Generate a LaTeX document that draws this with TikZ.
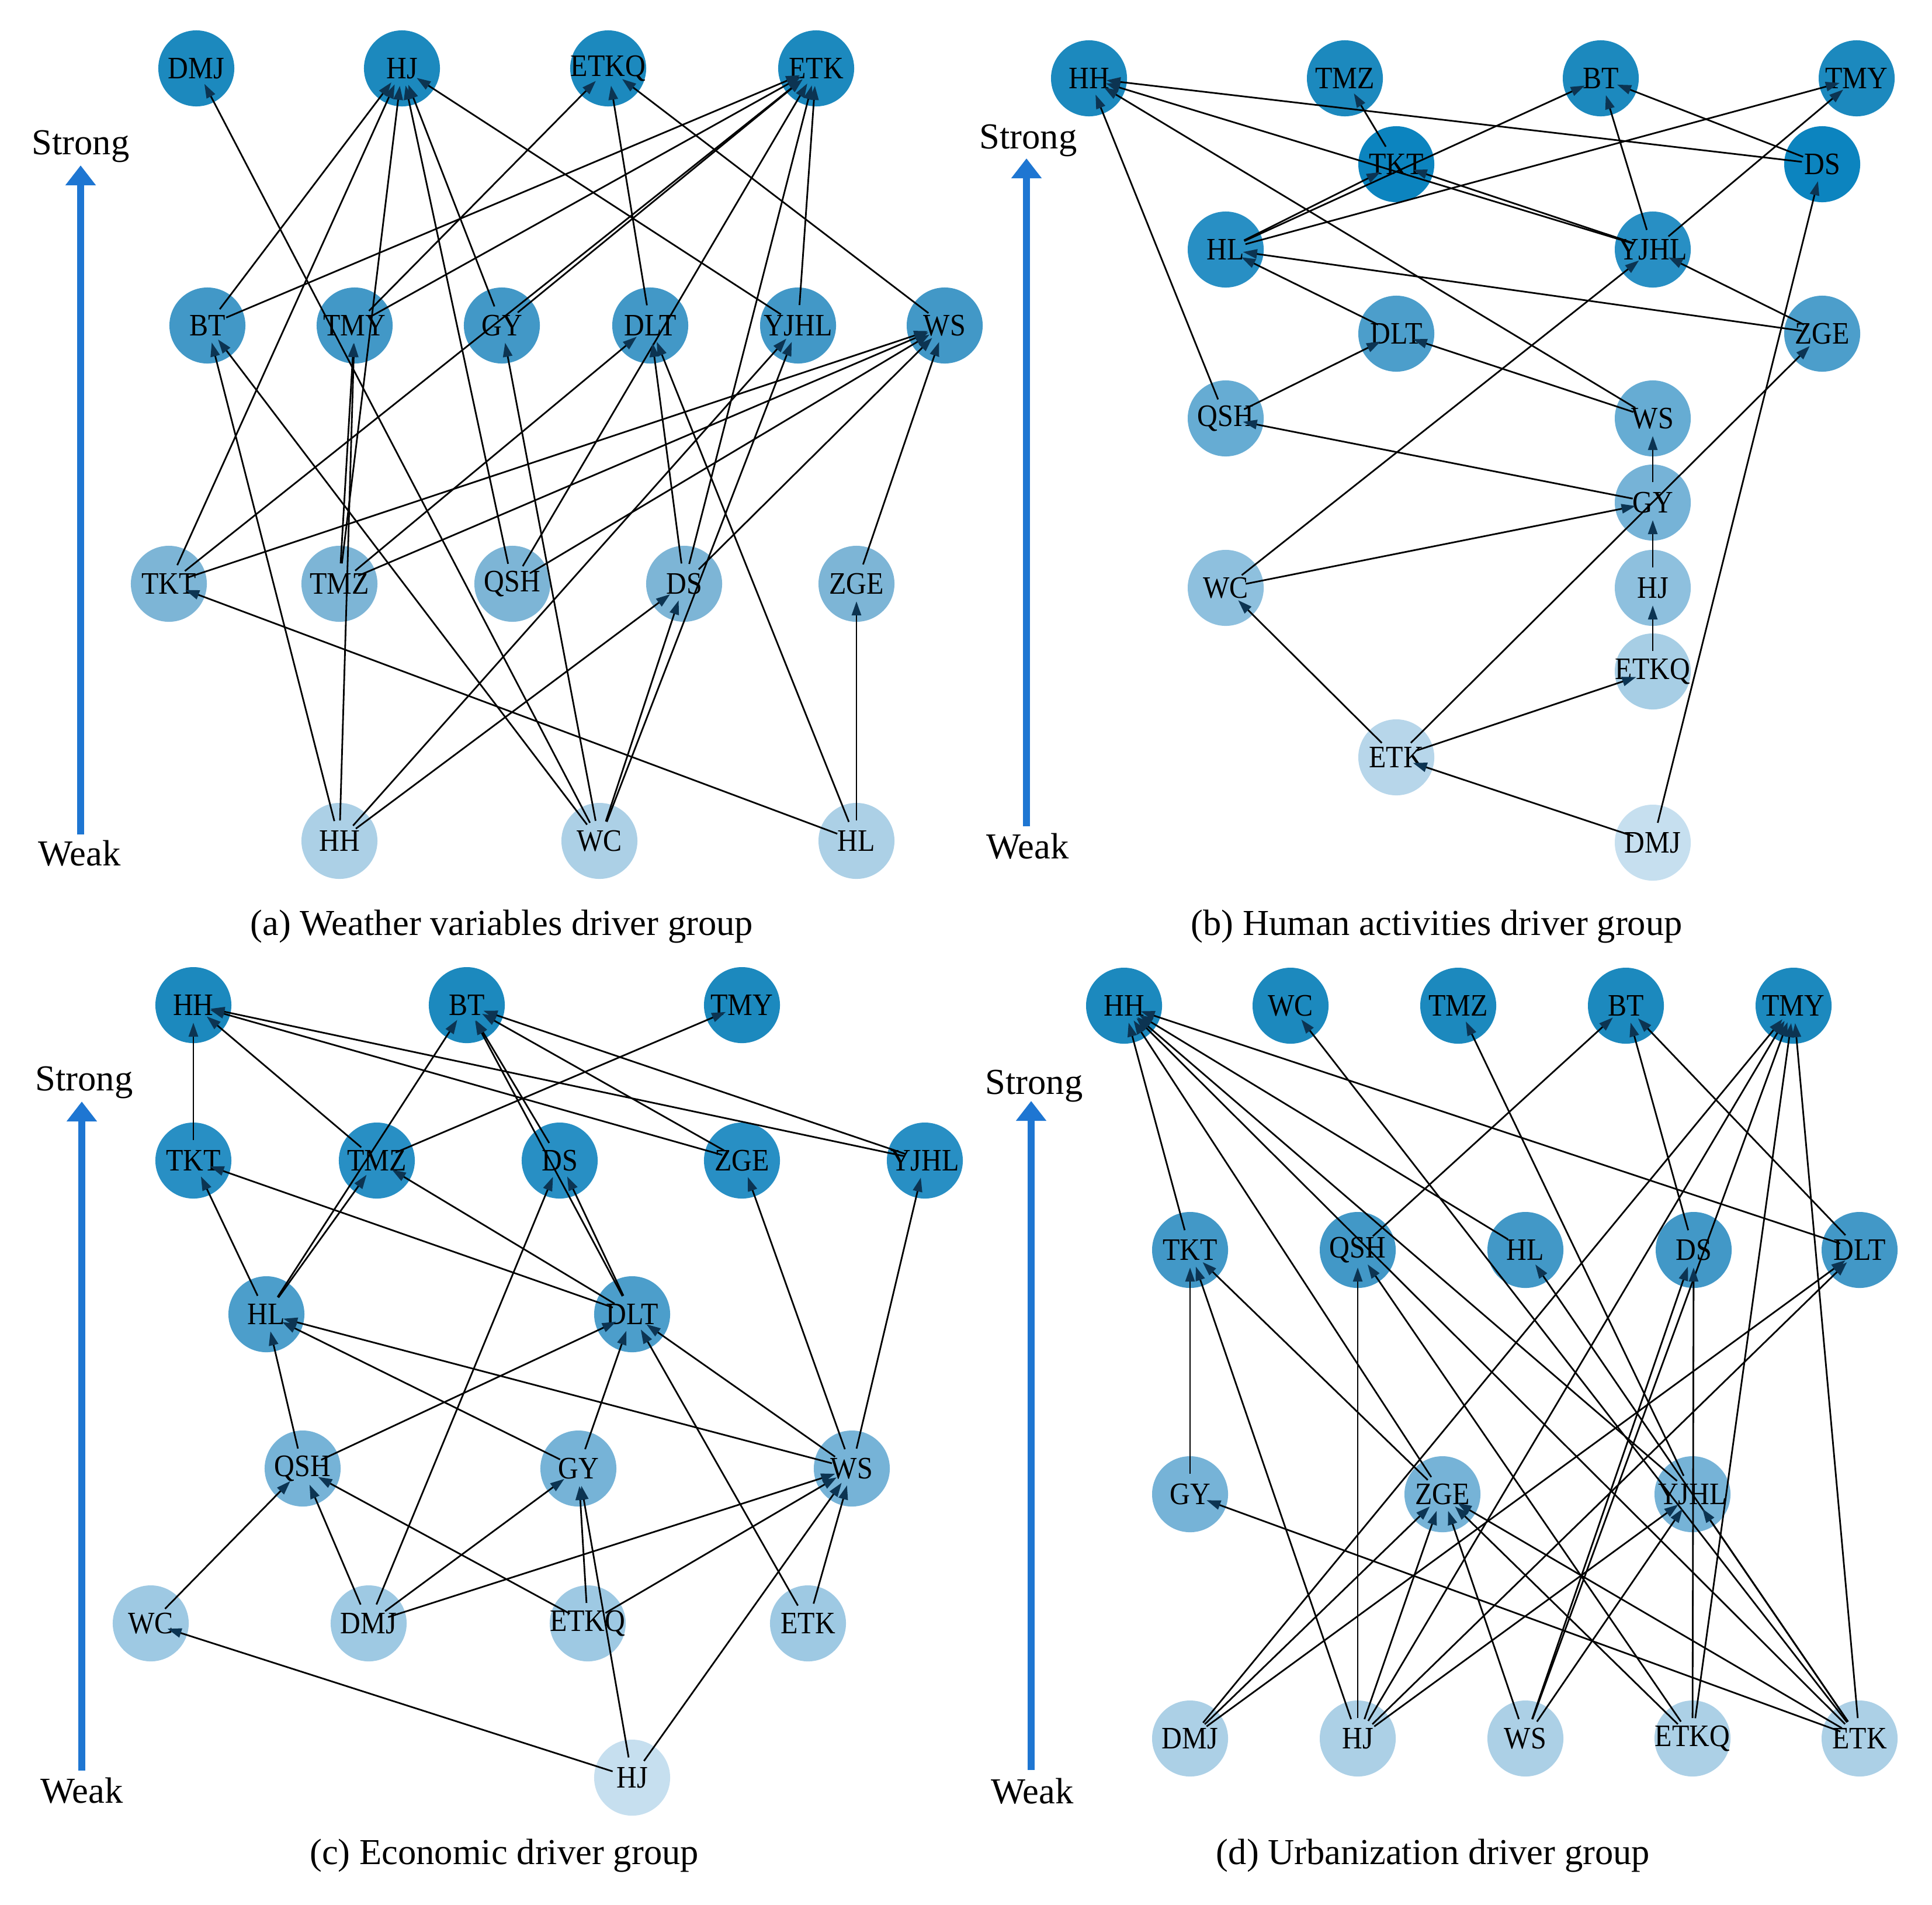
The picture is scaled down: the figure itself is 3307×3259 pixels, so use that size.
\documentclass[tikz,border=0pt]{standalone}
\usepackage{fontspec}
\setmainfont{Liberation Serif}
\newfontfamily\nodefamily{Liberation Serif}[FakeStretch=0.9]
\usetikzlibrary{arrows.meta}
\definecolor{axisblue}{RGB}{30,118,210}
\definecolor{tipc}{RGB}{12,52,82}
\definecolor{shA}{RGB}{28,137,190}
\definecolor{shA2}{RGB}{12,132,191}
\definecolor{shB}{RGB}{40,143,196}
\definecolor{shC}{RGB}{66,152,199}
\definecolor{shD}{RGB}{76,158,203}
\definecolor{shE}{RGB}{102,172,211}
\definecolor{shF}{RGB}{118,179,215}
\definecolor{shG}{RGB}{125,181,214}
\definecolor{shH}{RGB}{142,192,222}
\definecolor{shI}{RGB}{158,201,227}
\definecolor{shJ}{RGB}{167,206,229}
\definecolor{shK}{RGB}{172,208,230}
\definecolor{shL}{RGB}{183,214,234}
\definecolor{shM}{RGB}{198,223,239}
\newcommand\vnfont{\nodefamily\fontsize{15.2pt}{17pt}\selectfont}
\newcommand\capfont{\fontsize{17.8pt}{21pt}\selectfont}
\tikzset{
  vnode/.style={circle, minimum size=1.3cm, inner sep=0pt, font=\vnfont, text=black},
  edge/.style={line width=0.8pt, black, shorten <=0.35cm, shorten >=0.3cm,
    -{Triangle[length=0.24cm,width=0.16cm,color=tipc]}},
  axisline/.style={line width=0.12cm, axisblue, -{Triangle[length=0.34cm,width=0.5cm]}},
  axislabel/.style={font=\capfont, anchor=base},
  caption/.style={font=\capfont, anchor=base}
}
\begin{document}
\begin{tikzpicture}[x=0.01cm, y=-0.01cm]
\useasboundingbox (0,0) rectangle (3307,3259);

% ---------------- panel (a) ----------------
\coordinate (aAxB) at (138,1428);
\coordinate (aAxT) at (138,283);
\draw[axisline] (aAxB) -- (aAxT);
\node[axislabel] (aStrong) at (138,264) {Strong};
\node[axislabel] (aWeak) at (136,1481) {Weak};
\node[caption] (aCap) at (859,1600) {(a) Weather variables driver group};

\node[vnode, fill=shA] (aDMJ) at (336,117) {\makebox[0pt]{DMJ}};
\node[vnode, fill=shA] (aHJ) at (688,117) {\makebox[0pt]{HJ}};
\node[vnode, fill=shA] (aETKQ) at (1041,117) {\makebox[0pt]{ETKQ}};
\node[vnode, fill=shA] (aETK) at (1397,117) {\makebox[0pt]{ETK}};
\node[vnode, fill=shC] (aBT) at (355,557) {\makebox[0pt]{BT}};
\node[vnode, fill=shC] (aTMY) at (607,557) {\makebox[0pt]{TMY}};
\node[vnode, fill=shC] (aGY) at (859,557) {\makebox[0pt]{GY}};
\node[vnode, fill=shC] (aDLT) at (1113,557) {\makebox[0pt]{DLT}};
\node[vnode, fill=shC] (aYJHL) at (1366,557) {\makebox[0pt]{YJHL}};
\node[vnode, fill=shC] (aWS) at (1617,557) {\makebox[0pt]{WS}};
\node[vnode, fill=shG] (aTKT) at (289,999) {\makebox[0pt]{TKT}};
\node[vnode, fill=shG] (aTMZ) at (581,999) {\makebox[0pt]{TMZ}};
\node[vnode, fill=shG] (aQSH) at (877,999) {\makebox[0pt]{QSH}};
\node[vnode, fill=shG] (aDS) at (1171,999) {\makebox[0pt]{DS}};
\node[vnode, fill=shG] (aZGE) at (1466,999) {\makebox[0pt]{ZGE}};
\node[vnode, fill=shK] (aHH) at (581,1439) {\makebox[0pt]{HH}};
\node[vnode, fill=shK] (aWC) at (1026,1439) {\makebox[0pt]{WC}};
\node[vnode, fill=shK] (aHL) at (1466,1439) {\makebox[0pt]{HL}};

\foreach \s/\t in {aWC/aDMJ, aBT/aHJ, aTKT/aHJ, aTMZ/aHJ, aQSH/aHJ, aGY/aHJ, aYJHL/aHJ,
  aTMY/aETKQ, aDLT/aETKQ, aWS/aETKQ,
  aBT/aETK, aTMY/aETK, aGY/aETK, aTKT/aETK, aQSH/aETK, aDS/aETK, aYJHL/aETK,
  aHH/aBT, aWC/aBT, aTMZ/aTMY, aHH/aTMY, aWC/aGY,
  aTMZ/aDLT, aDS/aDLT, aHL/aDLT, aHH/aYJHL, aWC/aYJHL,
  aTKT/aWS, aTMZ/aWS, aQSH/aWS, aDS/aWS, aZGE/aWS,
  aHL/aTKT, aHH/aDS, aWC/aDS, aHL/aZGE}
  \draw[edge] (\s.center) -- (\t.center);

% ---------------- panel (b) ----------------
\coordinate (bAxB) at (1757,1414);
\coordinate (bAxT) at (1757,271);
\draw[axisline] (bAxB) -- (bAxT);
\node[axislabel] (bStrong) at (1760,254) {Strong};
\node[axislabel] (bWeak) at (1759,1469) {Weak};
\node[caption] (bCap) at (2459,1600) {(b) Human activities driver group};

\node[vnode, fill=shA] (bHH) at (1864,134) {\makebox[0pt]{HH}};
\node[vnode, fill=shA] (bTMZ) at (2302,134) {\makebox[0pt]{TMZ}};
\node[vnode, fill=shA] (bBT) at (2740,134) {\makebox[0pt]{BT}};
\node[vnode, fill=shA] (bTMY) at (3178,134) {\makebox[0pt]{TMY}};
\node[vnode, fill=shA2] (bTKT) at (2390,281) {\makebox[0pt]{TKT}};
\node[vnode, fill=shA2] (bDS) at (3119,281) {\makebox[0pt]{DS}};
\node[vnode, fill=shB] (bHL) at (2098,427) {\makebox[0pt]{HL}};
\node[vnode, fill=shB] (bYJHL) at (2829,427) {\makebox[0pt]{YJHL}};
\node[vnode, fill=shD] (bDLT) at (2390,571) {\makebox[0pt]{DLT}};
\node[vnode, fill=shD] (bZGE) at (3119,571) {\makebox[0pt]{ZGE}};
\node[vnode, fill=shE] (bQSH) at (2098,716) {\makebox[0pt]{QSH}};
\node[vnode, fill=shE] (bWS) at (2829,716) {\makebox[0pt]{WS}};
\node[vnode, fill=shF] (bGY) at (2829,860) {\makebox[0pt]{GY}};
\node[vnode, fill=shH] (bWC) at (2098,1006) {\makebox[0pt]{WC}};
\node[vnode, fill=shH] (bHJ) at (2829,1006) {\makebox[0pt]{HJ}};
\node[vnode, fill=shJ] (bETKQ) at (2829,1149) {\makebox[0pt]{ETKQ}};
\node[vnode, fill=shL] (bETK) at (2390,1296) {\makebox[0pt]{ETK}};
\node[vnode, fill=shM] (bDMJ) at (2829,1442) {\makebox[0pt]{DMJ}};

\foreach \s/\t in {bDS/bHH, bYJHL/bHH, bWS/bHH, bQSH/bHH, bTKT/bTMZ,
  bHL/bBT, bYJHL/bBT, bDS/bBT, bHL/bTMY, bYJHL/bTMY,
  bHL/bTKT, bYJHL/bTKT, bDMJ/bDS, bZGE/bYJHL, bWC/bYJHL,
  bZGE/bHL, bDLT/bHL, bQSH/bDLT, bWS/bDLT, bETK/bZGE,
  bGY/bQSH, bGY/bWS, bWC/bGY, bHJ/bGY, bETKQ/bHJ,
  bETK/bETKQ, bETK/bWC, bDMJ/bETK}
  \draw[edge] (\s.center) -- (\t.center);

% ---------------- panel (c) ----------------
\coordinate (cAxB) at (140,3030);
\coordinate (cAxT) at (140,1885);
\draw[axisline] (cAxB) -- (cAxT);
\node[axislabel] (cStrong) at (144,1866) {Strong};
\node[axislabel] (cWeak) at (140,3085) {Weak};
\node[caption] (cCap) at (863,3190) {(c) Economic driver group};

\node[vnode, fill=shA] (cHH) at (331,1720) {\makebox[0pt]{HH}};
\node[vnode, fill=shA] (cBT) at (799,1720) {\makebox[0pt]{BT}};
\node[vnode, fill=shA] (cTMY) at (1270,1720) {\makebox[0pt]{TMY}};
\node[vnode, fill=shB] (cTKT) at (331,1986) {\makebox[0pt]{TKT}};
\node[vnode, fill=shB] (cTMZ) at (645,1986) {\makebox[0pt]{TMZ}};
\node[vnode, fill=shB] (cDS) at (958,1986) {\makebox[0pt]{DS}};
\node[vnode, fill=shB] (cZGE) at (1270,1986) {\makebox[0pt]{ZGE}};
\node[vnode, fill=shB] (cYJHL) at (1583,1986) {\makebox[0pt]{YJHL}};
\node[vnode, fill=shD] (cHL) at (456,2249) {\makebox[0pt]{HL}};
\node[vnode, fill=shD] (cDLT) at (1082,2249) {\makebox[0pt]{DLT}};
\node[vnode, fill=shF] (cQSH) at (518,2513) {\makebox[0pt]{QSH}};
\node[vnode, fill=shF] (cGY) at (990,2513) {\makebox[0pt]{GY}};
\node[vnode, fill=shF] (cWS) at (1458,2513) {\makebox[0pt]{WS}};
\node[vnode, fill=shI] (cWC) at (258,2778) {\makebox[0pt]{WC}};
\node[vnode, fill=shI] (cDMJ) at (631,2778) {\makebox[0pt]{DMJ}};
\node[vnode, fill=shI] (cETKQ) at (1006,2778) {\makebox[0pt]{ETKQ}};
\node[vnode, fill=shI] (cETK) at (1383,2778) {\makebox[0pt]{ETK}};
\node[vnode, fill=shM] (cHJ) at (1082,3042) {\makebox[0pt]{HJ}};

\foreach \s/\t in {cTKT/cHH, cTMZ/cHH, cZGE/cHH, cYJHL/cHH,
  cHL/cBT, cDLT/cBT, cDS/cBT, cZGE/cBT, cYJHL/cBT, cTMZ/cTMY,
  cHL/cTKT, cDLT/cTKT, cHL/cTMZ, cDLT/cTMZ, cDMJ/cDS, cDLT/cDS,
  cWS/cZGE, cWS/cYJHL, cQSH/cHL, cGY/cHL, cWS/cHL,
  cQSH/cDLT, cGY/cDLT, cETK/cDLT, cWS/cDLT,
  cWC/cQSH, cDMJ/cQSH, cETKQ/cQSH, cDMJ/cGY, cETKQ/cGY, cHJ/cGY,
  cDMJ/cWS, cETKQ/cWS, cETK/cWS, cHJ/cWS, cHJ/cWC}
  \draw[edge] (\s.center) -- (\t.center);

% ---------------- panel (d) ----------------
\coordinate (dAxB) at (1765,3029);
\coordinate (dAxT) at (1765,1884);
\draw[axisline] (dAxB) -- (dAxT);
\node[axislabel] (dStrong) at (1770,1872) {Strong};
\node[axislabel] (dWeak) at (1767,3086) {Weak};
\node[caption] (dCap) at (2453,3190) {(d) Urbanization driver group};

\node[vnode, fill=shA] (dHH) at (1924,1721) {\makebox[0pt]{HH}};
\node[vnode, fill=shA] (dWC) at (2209,1721) {\makebox[0pt]{WC}};
\node[vnode, fill=shA] (dTMZ) at (2496,1721) {\makebox[0pt]{TMZ}};
\node[vnode, fill=shA] (dBT) at (2783,1721) {\makebox[0pt]{BT}};
\node[vnode, fill=shA] (dTMY) at (3070,1721) {\makebox[0pt]{TMY}};
\node[vnode, fill=shC] (dTKT) at (2037,2139) {\makebox[0pt]{TKT}};
\node[vnode, fill=shC] (dQSH) at (2324,2139) {\makebox[0pt]{QSH}};
\node[vnode, fill=shC] (dHL) at (2611,2139) {\makebox[0pt]{HL}};
\node[vnode, fill=shC] (dDS) at (2899,2139) {\makebox[0pt]{DS}};
\node[vnode, fill=shC] (dDLT) at (3183,2139) {\makebox[0pt]{DLT}};
\node[vnode, fill=shF] (dGY) at (2037,2557) {\makebox[0pt]{GY}};
\node[vnode, fill=shF] (dZGE) at (2469,2557) {\makebox[0pt]{ZGE}};
\node[vnode, fill=shF] (dYJHL) at (2897,2557) {\makebox[0pt]{YJHL}};
\node[vnode, fill=shK] (dDMJ) at (2037,2975) {\makebox[0pt]{DMJ}};
\node[vnode, fill=shK] (dHJ) at (2324,2975) {\makebox[0pt]{HJ}};
\node[vnode, fill=shK] (dWS) at (2611,2975) {\makebox[0pt]{WS}};
\node[vnode, fill=shK] (dETKQ) at (2897,2975) {\makebox[0pt]{ETKQ}};
\node[vnode, fill=shK] (dETK) at (3183,2975) {\makebox[0pt]{ETK}};

\foreach \s/\t in {dTKT/dHH, dHL/dHH, dZGE/dHH, dYJHL/dHH, dETK/dHH, dDLT/dHH,
  dETK/dWC, dYJHL/dTMZ, dQSH/dBT, dDS/dBT, dDLT/dBT,
  dDMJ/dTMY, dHJ/dTMY, dWS/dTMY, dETKQ/dTMY, dETK/dTMY,
  dGY/dTKT, dHJ/dTKT, dZGE/dTKT, dHJ/dQSH, dETKQ/dQSH, dETK/dHL,
  dETKQ/dDS, dWS/dDS, dDMJ/dDLT, dHJ/dDLT, dETK/dGY,
  dDMJ/dZGE, dHJ/dZGE, dWS/dZGE, dETKQ/dZGE, dETK/dZGE,
  dHJ/dYJHL, dWS/dYJHL, dETK/dYJHL}
  \draw[edge] (\s.center) -- (\t.center);
\end{tikzpicture}
\end{document}
